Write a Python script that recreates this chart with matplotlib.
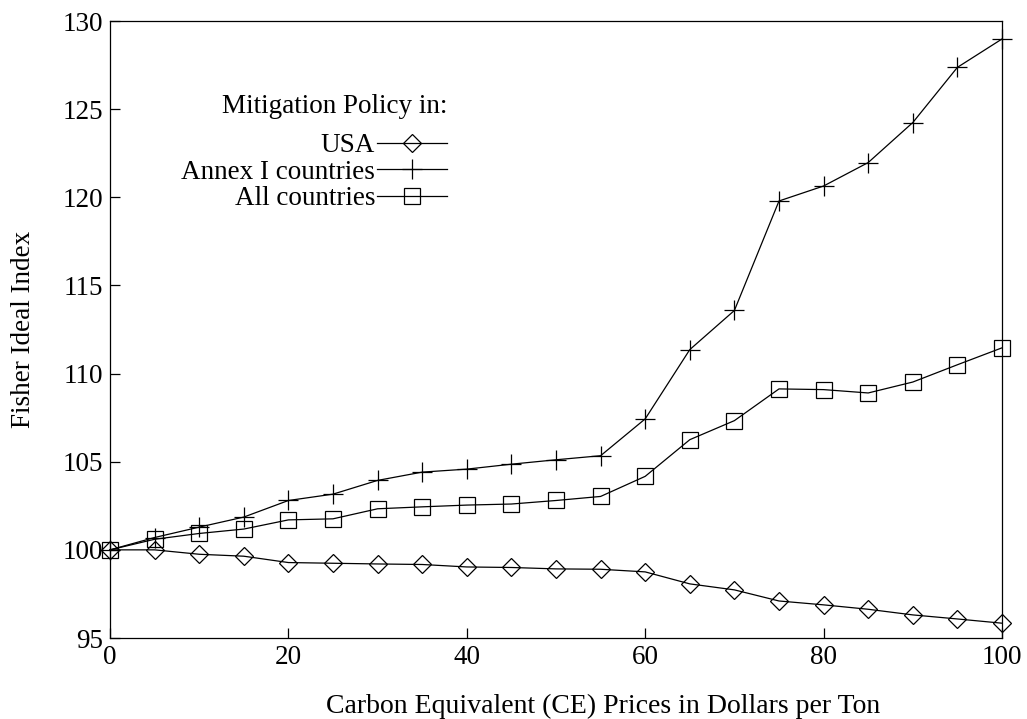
import matplotlib
matplotlib.use("Agg")
import matplotlib.pyplot as plt

prices = [0, 5, 10, 15, 20, 25, 30, 35, 40, 45, 50, 55, 60, 65, 70, 75, 80, 85, 90, 95, 100]
usa = [100.0, 100.0, 99.75, 99.64, 99.28, 99.24, 99.2, 99.17, 99.03, 99.0, 98.92,
       98.9, 98.75, 98.07, 97.73, 97.1, 96.88, 96.63, 96.31, 96.08, 95.84]
annex = [100.0, 100.7, 101.29, 101.86, 102.8, 103.16, 103.94, 104.41, 104.58, 104.86, 105.11,
         105.34, 107.43, 111.36, 113.58, 119.79, 120.64, 121.97, 124.24, 127.37, 128.98]
allc = [100.0, 100.6, 100.93, 101.18, 101.7, 101.76, 102.33, 102.44, 102.54, 102.6, 102.8,
        103.03, 104.17, 106.25, 107.33, 109.13, 109.09, 108.9, 109.52, 110.5, 111.46]
labels = ["USA", "Annex I countries", "All countries"]
legend_title = "Mitigation Policy in:"
xticks = [0, 20, 40, 60, 80, 100]
yticks = [95, 100, 105, 110, 115, 120, 125, 130]

plt.rcParams['font.family'] = ['Liberation Serif', 'DejaVu Serif']

FS = 19.5
fig = plt.figure(figsize=(10.27, 7.19), dpi=100)
ax = fig.add_axes([110/1027, 81/719, 892/1027, 617/719])

lw = 0.9
ax.plot(prices, usa, color='black', lw=lw, marker='D', ms=9, mfc='none', mew=0.9,
        label=labels[0], clip_on=False, zorder=3)
ax.plot(prices, annex, color='black', lw=lw, marker='+', ms=15, mew=0.9,
        label=labels[1], clip_on=False, zorder=3)
ax.plot(prices, allc, color='black', lw=lw, marker='s', ms=11.5, mfc='none', mew=0.9,
        label=labels[2], clip_on=False, zorder=3)

ax.set_xlim(0, 100)
ax.set_ylim(95, 130)
ax.set_xticks(xticks)
ax.set_yticks(yticks)
ax.tick_params(direction='in', length=7, width=0.9, labelsize=FS, pad=5)
for s in ax.spines.values():
    s.set_linewidth(0.9)

ax.set_ylabel("Fisher Ideal Index", fontsize=FS, labelpad=19)
fig.text(603/1027, 6/719, "Carbon Equivalent (CE) Prices in Dollars per Ton",
         fontsize=20, ha='center', va='baseline')

fig.text(447/1027, 1 - 113/719, legend_title, fontsize=FS, ha='right', va='baseline')
leg = ax.legend(loc='upper right', bbox_to_anchor=((447-110)/892, (638-133)/617), frameon=False,
                markerfirst=False, numpoints=1, handlelength=2.6, fontsize=FS,
                labelspacing=0.06, handletextpad=0.05, borderpad=0, borderaxespad=0)

fig.savefig("out.png", dpi=100)
